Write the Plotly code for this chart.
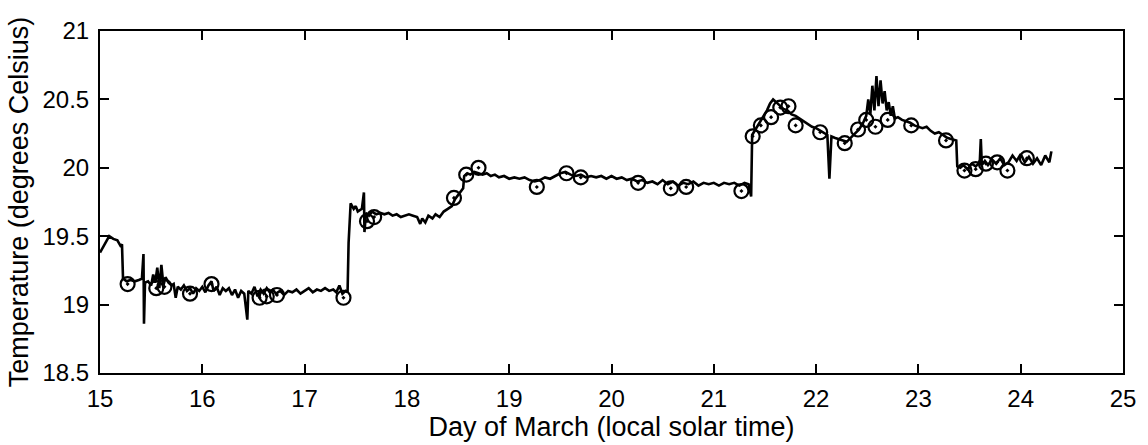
import plotly.graph_objects as go

# Continuous temperature record (day of March, degrees C)
line_day = [15.00, 15.05, 15.09, 15.13, 15.17, 15.20, 15.215, 15.225, 15.26, 15.30, 15.34, 15.38, 15.41,
            15.425, 15.43, 15.44, 15.47, 15.50, 15.52, 15.54, 15.56, 15.58, 15.60, 15.62, 15.64, 15.67,
            15.70, 15.72, 15.74, 15.76, 15.79, 15.82, 15.85, 15.88, 15.91, 15.94, 15.97, 16.00, 16.03,
            16.06, 16.09, 16.11, 16.14, 16.17, 16.20, 16.23, 16.26, 16.29, 16.32, 16.35, 16.38, 16.41,
            16.44, 16.45, 16.48, 16.51, 16.54, 16.57, 16.60, 16.63, 16.66, 16.69, 16.72, 16.76, 16.80,
            16.84, 16.88, 16.92, 16.96, 17.00, 17.04, 17.08, 17.12, 17.16, 17.20, 17.24, 17.28, 17.31,
            17.34, 17.37, 17.40, 17.42, 17.43, 17.45, 17.48, 17.50, 17.52, 17.56, 17.58, 17.585, 17.60,
            17.63, 17.66, 17.70, 17.74, 17.78, 17.82, 17.86, 17.90, 17.94, 17.98, 18.02, 18.06, 18.10,
            18.13, 18.15, 18.18, 18.21, 18.25, 18.28, 18.32, 18.36, 18.40, 18.44, 18.47, 18.50, 18.53,
            18.55, 18.56, 18.59, 18.62, 18.66, 18.70, 18.74, 18.78, 18.82, 18.86, 18.90, 18.95, 19.00,
            19.05, 19.10, 19.15, 19.20, 19.25, 19.30, 19.35, 19.40, 19.45, 19.50, 19.55, 19.60, 19.65,
            19.70, 19.75, 19.80, 19.85, 19.90, 19.95, 20.00, 20.05, 20.10, 20.15, 20.20, 20.25, 20.30,
            20.35, 20.40, 20.45, 20.50, 20.55, 20.60, 20.65, 20.70, 20.75, 20.80, 20.85, 20.90, 20.95,
            21.00, 21.05, 21.10, 21.15, 21.20, 21.25, 21.30, 21.34, 21.365, 21.375, 21.40, 21.44, 21.48,
            21.52, 21.55, 21.58, 21.61, 21.64, 21.68, 21.72, 21.76, 21.80, 21.84, 21.88, 21.92, 21.96,
            22.00, 22.04, 22.08, 22.11, 22.13, 22.15, 22.18, 22.22, 22.26, 22.30, 22.34, 22.38, 22.42,
            22.46, 22.49, 22.51, 22.53, 22.55, 22.57, 22.59, 22.61, 22.63, 22.65, 22.67, 22.69, 22.71,
            22.73, 22.75, 22.77, 22.80, 22.84, 22.88, 22.92, 22.96, 23.00, 23.04, 23.08, 23.12, 23.16,
            23.20, 23.24, 23.28, 23.32, 23.37, 23.38, 23.41, 23.44, 23.48, 23.52, 23.56, 23.60, 23.61,
            23.62, 23.65, 23.68, 23.72, 23.76, 23.80, 23.84, 23.88, 23.92, 23.96, 24.00, 24.04, 24.08,
            24.12, 24.16, 24.20, 24.24, 24.28, 24.30]
line_temp = [19.38, 19.45, 19.50, 19.48, 19.47, 19.43, 19.44, 19.19, 19.17, 19.18, 19.17, 19.18, 19.19,
             19.37, 18.86, 19.16, 19.17, 19.14, 19.22, 19.16, 19.27, 19.12, 19.29, 19.14, 19.20, 19.16,
             19.14, 19.15, 19.05, 19.13, 19.11, 19.14, 19.10, 19.12, 19.08, 19.12, 19.10, 19.13, 19.09,
             19.14, 19.17, 19.10, 19.13, 19.07, 19.12, 19.10, 19.12, 19.07, 19.11, 19.05, 19.10, 19.08,
             18.89, 19.10, 19.08, 19.13, 19.06, 19.11, 19.08, 19.12, 19.09, 19.11, 19.08, 19.10, 19.07,
             19.10, 19.09, 19.11, 19.08, 19.10, 19.12, 19.09, 19.11, 19.10, 19.12, 19.10, 19.11, 19.09,
             19.14, 19.08, 19.10, 19.09, 19.45, 19.74, 19.70, 19.72, 19.68, 19.70, 19.82, 19.53, 19.67,
             19.65, 19.68, 19.66, 19.67, 19.66, 19.67, 19.65, 19.66, 19.64, 19.65, 19.66, 19.65, 19.64,
             19.59, 19.63, 19.60, 19.65, 19.63, 19.66, 19.64, 19.68, 19.70, 19.72, 19.77, 19.80, 19.83,
             19.85, 19.94, 19.96, 19.95, 19.97, 19.96, 19.95, 19.96, 19.94, 19.95, 19.93, 19.94, 19.92,
             19.93, 19.92, 19.93, 19.91, 19.90, 19.91, 19.93, 19.92, 19.94, 19.96, 19.97, 19.95, 19.94,
             19.95, 19.93, 19.94, 19.93, 19.94, 19.92, 19.94, 19.92, 19.93, 19.91, 19.92, 19.90, 19.91,
             19.89, 19.90, 19.88, 19.91, 19.88, 19.90, 19.87, 19.89, 19.88, 19.90, 19.87, 19.89, 19.88,
             19.89, 19.87, 19.89, 19.88, 19.89, 19.87, 19.89, 19.88, 19.79, 20.24, 20.27, 20.32, 20.37,
             20.42, 20.47, 20.50, 20.48, 20.46, 20.43, 20.42, 20.39, 20.38, 20.36, 20.34, 20.32, 20.30,
             20.29, 20.27, 20.25, 20.24, 19.92, 20.23, 20.22, 20.21, 20.20, 20.19, 20.22, 20.25, 20.28,
             20.33, 20.38, 20.50, 20.39, 20.60, 20.42, 20.67, 20.45, 20.64, 20.47, 20.56, 20.42, 20.48,
             20.38, 20.45, 20.36, 20.37, 20.35, 20.34, 20.33, 20.31, 20.30, 20.29, 20.30, 20.27, 20.25,
             20.26, 20.24, 20.22, 20.21, 20.20, 20.01, 20.00, 20.02, 19.99, 20.03, 20.01, 20.04, 20.21,
             20.02, 20.05, 20.02, 20.06, 20.03, 20.07, 20.02, 20.04, 20.09, 20.05, 20.10, 20.04, 20.08,
             20.03, 20.07, 20.02, 20.09, 20.04, 20.12, 20.08]

# Discrete samples (circles)
circ_day = [15.27, 15.55, 15.63, 15.88, 16.09, 16.56, 16.63, 16.73, 17.38, 17.61, 17.68, 18.46, 18.58,
            18.70, 19.27, 19.56, 19.70, 20.26, 20.58, 20.73, 21.27, 21.38, 21.46, 21.56, 21.65, 21.73,
            21.80, 22.04, 22.28, 22.41, 22.49, 22.58, 22.70, 22.93, 23.27, 23.45, 23.56, 23.66, 23.77,
            23.87, 24.06]
circ_temp = [19.15, 19.12, 19.13, 19.08, 19.15, 19.05, 19.06, 19.07, 19.05, 19.61, 19.64, 19.78, 19.95,
             20.00, 19.86, 19.96, 19.93, 19.89, 19.85, 19.86, 19.83, 20.23, 20.31, 20.37, 20.44, 20.45,
             20.31, 20.26, 20.18, 20.28, 20.35, 20.30, 20.35, 20.31, 20.20, 19.98, 19.99, 20.03, 20.04,
             19.98, 20.07]

x_ticks = [15, 16, 17, 18, 19, 20, 21, 22, 23, 24, 25]
y_ticks = [18.5, 19, 19.5, 20, 20.5, 21]
y_tick_text = ["18.5", "19", "19.5", "20", "20.5", "21"]

fig = go.Figure()
fig.add_trace(go.Scatter(x=line_day, y=line_temp, mode="lines",
                         line=dict(color="black", width=2.6), showlegend=False))
fig.add_trace(go.Scatter(x=circ_day, y=circ_temp, mode="markers",
                         marker=dict(symbol="circle-open-dot", size=14, color="black",
                                     line=dict(color="black", width=2.2)),
                         showlegend=False))

family = "Liberation Sans, Arial, Helvetica, sans-serif"
tick_font = dict(family=family, size=24, color="black")
title_font = dict(family=family, size=27, color="black")
fig.update_layout(
    width=1148, height=445,
    margin=dict(l=100, r=18, t=31, b=72),
    paper_bgcolor="white", plot_bgcolor="white",
    font=tick_font,
    xaxis=dict(range=[15, 25], tickvals=x_ticks, ticks="inside", ticklen=9, tickwidth=1.5,
               tickcolor="black", showline=True, linecolor="black", linewidth=2,
               mirror="allticks", showgrid=False, zeroline=False, tickfont=tick_font,
               ticklabelstandoff=3,
               title=dict(text="Day of March (local solar time)", font=title_font, standoff=0)),
    yaxis=dict(range=[18.5, 21], tickvals=y_ticks, ticktext=y_tick_text, ticks="inside",
               ticklen=9, tickwidth=1.5, tickcolor="black", showline=True, linecolor="black",
               linewidth=2, mirror="allticks", showgrid=False, zeroline=False, tickfont=tick_font,
               ticklabelstandoff=4,
               title=dict(text="Temperature (degrees Celsius)", font=title_font, standoff=6)),
)

fig.write_html("out.html")
